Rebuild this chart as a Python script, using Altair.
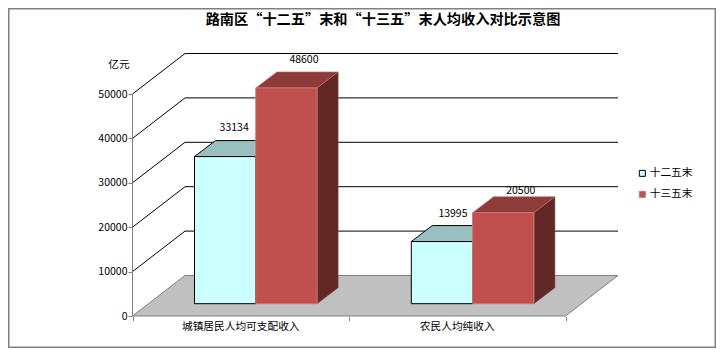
import altair as alt

title_text = "路南区“十二五”末和“十三五”末人均收入对比示意图"
categories = ["城镇居民人均可支配收入", "农民人均纯收入"]
series = ["十二五末", "十三五末"]
values_a = [33134, 13995]
values_b = [48600, 20500]
ticks = [0, 10000, 20000, 30000, 40000, 50000]
FONT = "Noto Sans CJK SC"
TXT = 10.7

# layout helpers (screen px -> scale units)
W, H = 708, 340
U = 10000 / 44.4
X0, X1 = 132.5, 565.5
DX, DYPX = 52.5, 40.5
BDX, BDYPX = 21, 16
BASEPX = 12.3
BAR = 61.3
cat_left = [194.5, 411.3]
DY, BDY, BASE = DYPX * U, BDYPX * U, BASEPX * U

xs = alt.Scale(domain=[8, 8 + W], range=[0, W], nice=False, zero=False)
ys = alt.Scale(domain=[(316 - 8 - H) * U, (316 - 8) * U], range=[H, 0], nice=False, zero=False)
yaxis = alt.Axis(values=ticks, title=None, grid=False, domain=False, offset=-(X0 - 8.5),
                 tickColor="#808080", tickSize=4, labelFont=FONT, labelFontSize=10.5,
                 labelColor="#000", labelPadding=1, format="d", zindex=1)
xaxis = alt.Axis(values=[X0, (X0 + X1) / 2, X1], title=None, grid=False, domain=False, labels=False,
                 offset=-(8 + H - 316.5), tickColor="#808080", tickSize=4, orient="bottom", zindex=1)
X = alt.X("x:Q", scale=xs, axis=xaxis, stack=None)
Y = alt.Y("y:Q", scale=ys, axis=yaxis, stack=None)


def df(rows):
    return alt.Data(values=rows)


grid_rows = []
for v in ticks[1:]:
    for x, y in [(X0, v), (X0 + DX, v + DY), (X1 + DX, v + DY)]:
        grid_rows.append({"id": v, "x": x, "y": y})
grid = alt.Chart(df(grid_rows)).mark_line(color="#000", strokeWidth=1).encode(x=X, y=Y, detail="id:N")

floor = alt.Chart(df([
    {"y": 0, "x": X0, "x2": X1},
    {"y": DY, "x": X0 + DX, "x2": X1 + DX},
])).mark_area(orient="horizontal", color="#C0C0C0", stroke="#808080", strokeWidth=1).encode(
    y=Y, x=X, x2=alt.X2("x2"))

axis_line = alt.Chart(df([{"x": X0, "y": 0, "y2": 50000}])).mark_rule(color="#808080").encode(
    x=X, y=Y, y2=alt.Y2("y2"))


def top_rows(left, val, key):
    b = BASE + val
    return [{"id": key, "y": b, "x": left, "x2": left + BAR},
            {"id": key, "y": b + BDY, "x": left + BDX, "x2": left + BAR + BDX}]


def side_rows(right, val, key):
    return [{"id": key, "x": right, "y": BASE, "y2": BASE + val},
            {"id": key, "x": right + BDX, "y": BASE + BDY, "y2": BASE + val + BDY}]


a_top, a_side, b_top, b_side, fronts, labels = [], [], [], [], [], []
label_shift = [((9, 12.5), (17.5, 11.5)), ((11, 12), (17.5, 5.5))]
for i, left in enumerate(cat_left):
    va, vb = values_a[i], values_b[i]
    a_top += top_rows(left, va, i)
    a_side += side_rows(left + BAR, va, i)
    b_top += top_rows(left + BAR, vb, i)
    b_side += side_rows(left + 2 * BAR, vb, i)
    fronts.append({"x": left, "x2": left + BAR, "y": BASE, "y2": BASE + va, "s": series[0]})
    fronts.append({"x": left + BAR, "x2": left + 2 * BAR, "y": BASE, "y2": BASE + vb, "s": series[1]})
    (ax, ay), (bx, by) = label_shift[i]
    labels.append({"x": left + BAR / 2 + ax, "y": BASE + va + BDY + ay * U, "t": str(va)})
    labels.append({"x": left + 1.5 * BAR + bx, "y": BASE + vb + BDY + by * U, "t": str(vb)})

a_top_l = alt.Chart(df(a_top)).mark_area(orient="horizontal", color="#9ABFBF", stroke="#000", strokeWidth=1).encode(
    y=Y, x=X, x2=alt.X2("x2"), detail="id:N")
a_side_l = alt.Chart(df(a_side)).mark_area(orient="vertical", color="#7FA6A6").encode(
    x=X, y=Y, y2=alt.Y2("y2"), detail="id:N")
b_side_l = alt.Chart(df(b_side)).mark_area(orient="vertical", color="#602725", stroke="#7A4A48", strokeWidth=0.6).encode(
    x=X, y=Y, y2=alt.Y2("y2"), detail="id:N")
b_top_l = alt.Chart(df(b_top)).mark_area(orient="horizontal", color="#8E3B39", stroke="#B87674", strokeWidth=0.6).encode(
    y=Y, x=X, x2=alt.X2("x2"), detail="id:N")

legend = alt.Legend(title=None, orient="none", legendX=640 - 8 - 3, legendY=168 - 8, symbolType="square",
                    symbolSize=36, symbolStrokeWidth=1, labelFont=FONT, labelFontSize=TXT,
                    labelColor="#000", rowPadding=9, padding=0, labelOffset=2)
fill_c = alt.Color("s:N", scale=alt.Scale(domain=series, range=["#CCFFFF", "#C0504D"]), legend=legend)
stroke_c = alt.Stroke("s:N", scale=alt.Scale(domain=series, range=["#000000", "#CC7572"]), legend=legend)
front_l = alt.Chart(df(fronts)).mark_rect(strokeWidth=1, opacity=1).encode(
    x=X, x2=alt.X2("x2"), y=Y, y2=alt.Y2("y2"), color=fill_c, stroke=stroke_c)


def text(rows, **kw):
    base = dict(font=FONT, color="#000", baseline="middle", align="center")
    base.update(kw)
    return alt.Chart(df(rows)).mark_text(**base).encode(x=X, y=Y, text="t:N")


label_l = text(labels, fontSize=10.5)
cat_l = text([{"x": X0 + (X1 - X0) * (0.25 + 0.5 * i), "y": (316 - 327) * U, "t": c} for i, c in enumerate(categories)],
             fontSize=TXT)
unit_l = text([{"x": 119, "y": (316 - 65) * U, "t": "亿元"}], fontSize=TXT)
title_l = text([{"x": 383, "y": (316 - 20) * U, "t": title_text}], fontSize=14.2, fontWeight="bold")

frame = alt.Chart(df([{"x": 8.75, "x2": 8 + W - 0.75, "y": (316 - 8 - 0.75) * U, "y2": (316 - 8 - H + 0.75) * U}])
                  ).mark_rect(filled=False, stroke="#808080", strokeWidth=1.5).encode(
    x=X, x2=alt.X2("x2"), y=Y, y2=alt.Y2("y2"))

chart = alt.layer(frame, grid, floor, axis_line, a_top_l, a_side_l, b_side_l, b_top_l, front_l,
                  label_l, cat_l, unit_l, title_l).properties(
    width=W, height=H, padding=0, autosize=alt.AutoSizeParams(type="none"), background="#FFFFFF"
).configure_view(strokeWidth=0)

chart.save("out.html", embed_options={"renderer": "svg", "actions": False})
